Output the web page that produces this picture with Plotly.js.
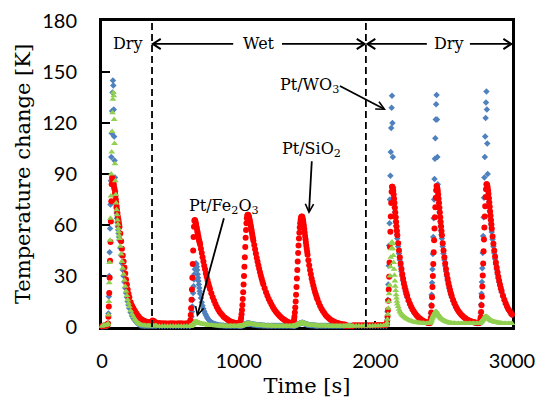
<!DOCTYPE html>
<html>
<head>
<meta charset="utf-8">
<script src="https://cdn.plot.ly/plotly-3.0.1.min.js"></script>
<style>html,body{margin:0;padding:0;background:#fff;}#chart{width:537px;height:398px;}</style>
</head>
<body>
<div id="chart"></div>
<script>
// Time axis [s]
const timeS = [
0,10,20,30,40,
44,47,50,53,56,59,62,65,68,71,74,77,80,83,86,89,
92,95,98,101,104,107,110,113,116,119,122,125,128,
134,140,146,152,158,164,170,176,182,188,194,200,
210,220,230,240,250,260,270,280,290,300,310,320,330,340,350,360,370,380,390,400,
420,440,460,480,500,520,540,560,580,600,620,640,
643,646,649,652,655,658,661,664,667,670,673,676,679,
682,685,688,691,694,697,700,703,706,709,712,715,718,
724,730,736,742,748,754,760,766,772,778,784,790,
800,810,820,830,840,850,860,870,880,890,900,910,920,930,940,950,960,970,980,990,1000,
1003,1006,1009,1012,1015,1018,1021,1024,1027,1030,1033,1036,1039,1042,1045,1048,1051,1054,1057,1060,1063,1066,
1069,1072,1075,1078,1081,1084,1087,1090,1093,1096,1099,1102,1105,1108,
1114,1120,1126,1132,1138,1144,1150,1156,1162,1168,1174,1180,
1190,1200,1210,1220,1230,1240,1250,1260,1270,1280,1290,1300,1310,1320,1330,1340,1350,1360,1370,1380,1390,
1396,1399,1402,1405,1408,1411,1414,1417,1420,1423,1426,1429,1432,1435,1438,1441,1444,1447,1450,1453,1456,1459,1462,
1465,1468,1471,1474,1477,1480,1483,1486,1489,1492,1495,1498,1501,1504,
1510,1516,1522,1528,1534,1540,1546,1552,1558,1564,1570,1576,
1586,1596,1606,1616,1626,1636,1646,1656,1666,1676,1686,1696,1706,1716,1726,1736,1746,1756,1766,1776,
1784,1790,1796,1802,1808,1814,1820,1830,
1840,1860,1880,1900,1920,1940,1960,1980,2000,2020,2040,2060,2080,
2083,2086,2089,2092,2095,2098,2101,2104,2107,2110,2113,2116,2119,2122,
2125,2128,2131,2134,2137,2140,2143,2146,2149,2152,2155,2158,2161,
2167,2173,2179,2185,2191,2197,2203,2209,2215,2221,2227,2233,
2243,2253,2263,2273,2283,2293,2303,2313,2323,2333,2343,2353,2363,2373,2383,2393,
2400,2403,2406,2409,2412,2415,2418,2421,2424,2427,2430,2433,2436,2439,2442,2445,2448,
2451,2454,2457,2460,2463,2466,2469,2472,2475,2478,2481,2484,2487,
2493,2499,2505,2511,2517,2523,2529,2535,2541,2547,2553,2559,
2569,2579,2589,2599,2609,2619,2629,2639,2649,2659,2669,2679,2689,2699,2709,2719,2729,2739,2749,2759,
2765,2768,2771,2774,2777,2780,2783,2786,2789,2792,2795,2798,2801,2804,2807,2810,2813,
2816,2819,2822,2825,2828,2831,2834,2837,2840,2843,2846,2849,2852,
2858,2864,2870,2876,2882,2888,2894,2900,2906,2912,2918,2924,
2934,2944,2954,2964,2974,2984,2994,3000
];

// Pt/WO3 temperature change [K]
const wo3 = [
0.3,0.5,0.5,0.5,0.8,
2,8,18,30,44,58,72,86,100,114,127,138,145,142,128,112,
98,88,80,74,70,67,64,61.5,59,57,55,53,51,
46.5,42,37.5,33.5,30,26.5,23,20,17.5,15,13,11,
8.5,6.5,5,3.8,2.8,2,1.5,1.1,0.9,0.8,0.7,0.7,0.7,0.7,0.7,0.7,0.8,0.8,0.7,0.7,
0.6,0.6,0.6,0.6,0.6,0.6,0.6,0.6,0.6,0.6,0.6,0.6,
0.7,1,2,4,6,9,12,16,20,24,28,31,34,
36,37,37.5,37,35.5,33.5,31,29,27,25,23,21,19.5,
17,14.5,12.5,10.8,9.3,8,7,6,5.2,4.5,3.9,3.4,
2.8,2.3,1.9,1.6,1.4,1.2,1,1,0.9,0.9,0.8,0.8,0.8,0.8,0.7,0.7,0.7,0.7,0.7,0.7,0.7,
0.7,0.7,0.7,0.7,0.8,0.8,0.9,0.9,1,1,1.1,1.2,1.3,1.4,1.5,1.6,1.7,1.8,1.9,2,2,2,
2,2,2,2,1.9,1.9,1.8,1.8,1.7,1.7,1.6,1.6,1.5,1.5,
1.4,1.3,1.3,1.2,1.2,1.1,1.1,1,1,1,0.9,0.9,
0.9,0.8,0.8,0.8,0.8,0.7,0.7,0.7,0.7,0.7,0.7,0.7,0.7,0.7,0.7,0.7,0.7,0.7,0.7,0.7,0.7,
0.7,0.7,0.7,0.8,0.8,0.9,0.9,1,1.1,1.2,1.3,1.4,1.5,1.6,1.7,1.8,1.9,2,2.1,2.2,2.3,2.4,2.5,
2.5,2.5,2.4,2.3,2.2,2.1,2,1.9,1.8,1.7,1.6,1.5,1.4,1.4,
1.3,1.2,1.2,1.1,1.1,1,1,0.9,0.9,0.9,0.8,0.8,
0.8,0.8,0.7,0.7,0.7,0.7,0.7,0.7,0.7,0.7,0.7,0.7,0.7,0.7,0.7,0.7,0.7,0.7,0.7,0.7,
0.7,0.7,0.7,0.7,0.7,0.7,0.7,0.7,
0.7,0.7,0.7,0.7,0.7,0.7,0.7,0.7,0.7,0.7,0.7,0.7,0.7,
1.5,4,9,16,25,36,48,61,75,89,103,117,129,136,
120,100,82,76,73,70.5,67.7,65,62.2,59.5,56.9,54.4,52,
47.4,43.2,39.4,35.9,32.7,29.8,27.2,24.8,22.7,20.8,19,17.4,
15.1,13.1,11.4,9.9,8.6,7.5,6.5,5.7,5,4.3,3.8,3.4,3,2.7,2.4,2.2,
2.3,4.5,8,13,19,26,34,43,53,64,75,87,99,111,122,131,136.5,
122,100,84,76,73,70.5,67.7,65,62.2,59.5,56.9,54.4,52,
47.4,43.2,39.4,35.9,32.7,29.8,27.2,24.8,22.7,20.8,19,17.4,
15.2,13.3,11.6,10.1,8.9,7.8,6.9,6.1,5.4,4.8,4.3,3.9,3.5,3.2,2.9,2.7,2.5,2.3,2.2,2.2,
2.5,4.8,8.3,13.3,19.5,26.5,34.5,43.5,53.5,64.5,76,88,100,112,123,132,138.5,
128,108,90,80,76,73.5,71,68.4,65.8,63.2,60.7,58.3,55.9,
51.4,47.3,43.5,40,36.7,33.8,31.1,28.6,26.3,24.2,22.2,20.5,
17.8,15.5,13.4,11.7,10.1,8.9,7.7,7.1
];

// Pt/SiO2 temperature change [K]
const sio2 = [
0.5,0.8,1,0.8,1,
2,6,12,20,29,39,50,62,74,84,88,87,86,85,84,82,
81,79,77,75,73,71,69,67,65,63.5,62,60.5,59,
55,50.5,46,42,38.5,35,31.5,28,25,22,19.5,17.5,
14.5,12.5,11,9.5,8.2,7,6,5,4.4,3.9,3.5,3.2,3,2.8,2.8,3,3.8,3.5,2.8,2.4,
2.3,2.2,2.2,2.1,2.2,2.2,2.1,2.2,2.2,2.1,2.2,2.3,
2.5,4,7,11,16,22,29,37,45,53,59,62.5,63,
62.5,61.5,60.5,59,58,56.5,55.5,54,53,51.5,50.5,49.5,48.5,
46,43.5,41,38.5,36,34,31.5,29.6,27.6,25.8,24,22.3,
19.8,17.5,15.4,13.5,11.8,10.3,9,7.9,7,6.1,5.4,4.8,4.2,3.7,3.3,3,2.7,2.5,2.3,2.2,2.1,
2,2,2.3,3,4,5.5,7.5,10,13,16.5,20.5,25,30,35.5,41,47,52.5,57,61,64,65.5,66,
66,65.5,64.8,63.8,62.7,61.5,60.2,59,57.5,56,54.7,53.3,52,50.8,
48.2,45.7,43.2,40.8,38.5,36.3,34.2,32.2,30.3,28.5,26.8,25.2,
22.8,20.5,18.4,16.5,14.8,13.2,11.8,10.5,9.3,8.2,7.3,6.4,5.7,5,4.4,3.9,3.4,3,2.7,2.4,2.2,
2.1,2.3,3,4.2,6,8.5,11.5,15,19,23.5,28.5,33.5,38.5,43.5,48,52,55.5,58.5,61,63,64.2,64.8,65,
64.8,64,62.8,61.2,59.5,57.6,55.6,53.6,51.6,49.7,47.8,46,44.2,42.5,
39.3,36.3,33.5,31,28.6,26.4,24.4,22.5,20.8,19.2,17.7,16.3,
14.2,12.4,10.8,9.4,8.2,7.1,6.2,5.4,4.7,4.1,3.6,3.2,2.8,2.5,2.2,2,1.8,1.6,1.5,1.4,
1.2,0.5,-0.5,-1.5,-2,-1.5,-0.5,0.5,
1,1,1,1,1,1.1,1.1,1.1,1.1,1.2,1.2,1.2,1.3,
1.5,3,6,10,15.5,22,29.5,38,47,56,65,73,79.5,82.5,
82.5,81.5,80,78,75.5,73,70.2,67.4,64.6,61.8,59.1,56.5,54,
49.3,45,41,37.4,34.1,31.1,28.4,25.9,23.7,21.7,19.9,18.2,
15.8,13.7,11.9,10.3,9,7.8,6.8,5.9,5.2,4.5,4,3.5,3.1,2.8,2.5,2.3,
2.4,3.5,5.5,8.5,12.5,17.5,23.5,30,37,44,51,58,64.5,70.5,76,80.5,83,
82.5,81.5,80,78,75.5,73,70.2,67.4,64.6,61.8,59.1,56.5,54,
49.3,45,41,37.4,34.1,31.1,28.4,25.9,23.7,21.7,19.9,18.2,
15.9,13.9,12.1,10.6,9.3,8.2,7.2,6.4,5.7,5.1,4.6,4.1,3.7,3.4,3.1,2.9,2.7,2.5,2.4,2.4,
2.6,3.8,5.8,8.8,12.8,17.8,23.8,30.3,37.3,44.5,51.5,58.5,65,71,76.5,81,84,
84,83.2,82,80.3,78.2,75.8,73.3,70.7,68,65.4,62.8,60.3,57.8,
53.2,49,45,41.4,38,35,32.2,29.6,27.2,25,23,21.2,
18.4,16,13.9,12.1,10.5,9.2,8,7.4
];

// Pt/Fe2O3 temperature change [K]
const fe2o3 = [
0.5,1,1,1,1.5,
2,7,15,26,38,51,64,77,90,103,115,126,134,138,136,122,
108,96,86,78,73,69,66,63,60.5,58,56,54,52,
47.5,43,38.5,34.5,31,27.5,24,21,18.5,16,14,12,
9.5,7.5,6,4.5,3.5,2.7,2,1.5,1.2,1,0.9,0.8,0.8,0.8,0.8,0.8,0.8,0.8,0.8,0.8,
0.5,0.5,0.5,0.5,0.5,0.5,0.5,0.5,0.5,0.5,0.5,0.5,
0.5,0.5,0.6,0.7,0.8,1,1.2,1.5,1.8,2.1,2.4,2.7,3,
3,3.1,3.1,3,2.9,2.8,2.7,2.6,2.5,2.4,2.3,2.2,2.1,
2,1.9,1.8,1.7,1.6,1.5,1.4,1.3,1.2,1.1,1.1,1,
1,0.9,0.9,0.8,0.8,0.8,0.7,0.7,0.7,0.7,0.6,0.6,0.6,0.6,0.6,0.6,0.6,0.6,0.6,0.6,0.6,
0.6,0.6,0.6,0.6,0.7,0.7,0.8,0.8,0.9,0.9,1,1.1,1.2,1.3,1.4,1.5,1.6,1.7,1.8,1.9,2,2,
2,2,2,1.9,1.9,1.8,1.8,1.7,1.7,1.6,1.6,1.5,1.5,1.4,
1.4,1.3,1.3,1.2,1.2,1.1,1.1,1,1,0.9,0.9,0.9,
0.8,0.8,0.8,0.7,0.7,0.7,0.6,0.6,0.6,0.6,0.6,0.6,0.6,0.6,0.6,0.6,0.6,0.6,0.6,0.6,0.6,
0.6,0.6,0.6,0.7,0.7,0.8,0.9,1,1.1,1.2,1.3,1.4,1.5,1.6,1.7,1.8,1.9,2,2.1,2.2,2.3,2.4,2.5,
2.5,2.5,2.4,2.3,2.2,2.1,2,1.9,1.8,1.7,1.6,1.5,1.4,1.4,
1.3,1.2,1.2,1.1,1.1,1,1,0.9,0.9,0.9,0.8,0.8,
0.8,0.8,0.7,0.7,0.7,0.7,0.6,0.6,0.6,0.6,0.6,0.6,0.6,0.6,0.6,0.6,0.6,0.6,0.6,0.6,
0.6,0.6,0.6,0.6,0.6,0.6,0.6,0.6,
0.6,0.6,0.6,0.6,0.6,0.6,0.6,0.6,0.7,0.7,0.8,0.9,1,
1.2,2.5,4.5,7.5,11,15,19.5,24.5,30,35.5,41,46,49.5,50,
49,46,42,38,34,30.5,27,24,21.5,19,17,15.2,13.6,
12,10.5,9.3,8.4,7.7,7.1,6.6,6.2,5.8,5.4,5,4.7,
4.2,3.8,3.5,3.2,3,2.8,2.6,2.5,2.4,2.3,2.2,2.2,2.1,2.1,2.1,2.2,
2.3,2.6,3,3.5,4.1,4.8,5.4,6,6.6,7.2,7.7,8.1,8.5,8.8,9,9,8.8,
8.5,8.1,7.7,7.3,6.9,6.6,6.3,6,5.7,5.4,5.1,4.9,4.7,
4.3,4,3.7,3.4,3.2,3,2.8,2.6,2.5,2.4,2.3,2.2,
2.2,2.2,2.1,2.1,2,2,2,2,2,2,2,2,2,2,2,2,2,2,2,2.1,
2.2,2.4,2.7,3,3.3,3.6,3.9,4.2,4.5,4.9,5.3,5.6,5.9,6.1,6.2,6.2,6.1,
5.9,5.7,5.5,5.3,5.1,4.9,4.7,4.5,4.3,4.1,3.9,3.7,3.5,
3.4,3.2,3,2.9,2.8,2.7,2.6,2.5,2.4,2.3,2.2,2.2,
2.1,2.1,2,2,2,2,2,2
];

const xTickVals = [0, 1000, 2000, 3000];
const yTickVals = [0, 30, 60, 90, 120, 150, 180];
const phaseBoundaries = [366, 1931];
const phaseLabels = ['Dry', 'Wet', 'Dry'];
const phaseLabelTimes = [187, 1146, 2538];
// phase arrows: [tail time, head time]
const phaseArrowTails = [960, 1317, 2377, 2692];
const phaseArrowHeads = [372, 1922, 1942, 2995];
const seriesNames = ['Pt/WO<sub>3</sub>', 'Pt/SiO<sub>2</sub>', 'Pt/Fe<sub>2</sub>O<sub>3</sub>'];

const serif = 'DejaVu Serif, Liberation Serif, serif';
const labelLevel = 166.5;

const traces = [
  {type:'scatter', mode:'markers', x: timeS, y: wo3, name:'Pt/WO3', cliponaxis:false,
   marker:{symbol:'diamond', size:5, color:'#4F81BD'}},
  {type:'scatter', mode:'markers', x: timeS, y: sio2, name:'Pt/SiO2', cliponaxis:false,
   marker:{symbol:'circle', size:6, color:'#FF0000'}},
  {type:'scatter', mode:'markers', x: timeS, y: fe2o3, name:'Pt/Fe2O3', cliponaxis:false,
   marker:{symbol:'triangle-up', size:6, color:'#92D050'}}
];

const textFont = {family: serif, size: 16, color:'black'};
const arrowStyle = {showarrow:true, arrowhead:5, arrowsize:0.9, arrowwidth:1.8, arrowcolor:'black',
  axref:'x', ayref:'y', xref:'x', yref:'y', standoff:0, borderpad:0, font:textFont};

const annotations = [
  {x: phaseLabelTimes[0], y: labelLevel, text: phaseLabels[0], showarrow:false, font:textFont},
  {x: phaseLabelTimes[1], y: labelLevel, text: phaseLabels[1], showarrow:false, font:textFont},
  {x: phaseLabelTimes[2], y: labelLevel, text: phaseLabels[2], showarrow:false, font:textFont},
  Object.assign({}, arrowStyle, {text: seriesNames[0], x: 2078, y: 127.6, ax: 1741, ay: 141.8,
    xanchor:'right', yanchor:'middle'}),
  Object.assign({}, arrowStyle, {text: seriesNames[1], x: 1514, y: 66.5, ax: 1535, ay: 97.5,
    xanchor:'center', yanchor:'bottom'}),
  Object.assign({}, arrowStyle, {text: seriesNames[2], x: 695, y: 5.9, ax: 892, ay: 64,
    xanchor:'center', yanchor:'bottom'})
];

const shapes = phaseBoundaries.map(t => ({
  type:'line', xref:'x', yref:'paper', x0:t, x1:t, y0:0, y1:1,
  line:{color:'black', width:1.8, dash:'7px,4px'}, layer:'above'
}));

// phase arrows drawn as lines with open chevron heads
const headLenT = 58;   // ~8 px along time axis
const headHalfV = 3.0; // ~5 px along temperature axis
phaseArrowTails.forEach((tail, i) => {
  const head = phaseArrowHeads[i];
  const dir = head > tail ? 1 : -1;
  shapes.push({type:'line', xref:'x', yref:'y', x0:tail, x1:head, y0:labelLevel, y1:labelLevel,
    line:{color:'black', width:1.8}, layer:'above'});
  const back = head - dir * headLenT;
  shapes.push({type:'path', xref:'x', yref:'y',
    path:'M' + back + ',' + (labelLevel + headHalfV) + ' L' + head + ',' + labelLevel + ' L' + back + ',' + (labelLevel - headHalfV),
    line:{color:'black', width:2}, layer:'above'});
});

const axisCommon = {
  showline:true, linewidth:3, linecolor:'black', mirror:true,
  showgrid:false, zeroline:false, layer:'below traces',
  ticks:'inside', tickwidth:2, tickcolor:'black',
  tickfont:{family:'Lato, Open Sans, sans-serif', size:20, color:'black'}
};

const layout = {
  width:537, height:398,
  margin:{l:102, r:25, t:21, b:71, pad:0},
  paper_bgcolor:'white', plot_bgcolor:'white',
  showlegend:false,
  xaxis: Object.assign({}, axisCommon, {
    range:[0,3000], tickmode:'array', tickvals:xTickVals, ticktext:xTickVals.map(String),
    ticklen:6, ticklabelstandoff:14,
    title:{text:'Time [s]', font:{family:serif, size:21, color:'black'}, standoff:8}
  }),
  yaxis: Object.assign({}, axisCommon, {
    range:[0,180], tickmode:'array', tickvals:yTickVals, ticktext:yTickVals.map(String),
    ticklen:8, ticklabelstandoff:18,
    title:{text:'Temperature change [K]', font:{family:serif, size:21, color:'black'}, standoff:6}
  }),
  annotations: annotations,
  shapes: shapes
};

Plotly.newPlot('chart', traces, layout, {displayModeBar:false, staticPlot:true});

if (wo3.length !== timeS.length || sio2.length !== timeS.length || fe2o3.length !== timeS.length) {
  throw new Error('length mismatch: t=' + timeS.length + ' wo3=' + wo3.length + ' sio2=' + sio2.length + ' fe2o3=' + fe2o3.length);
}
</script>
</body>
</html>
